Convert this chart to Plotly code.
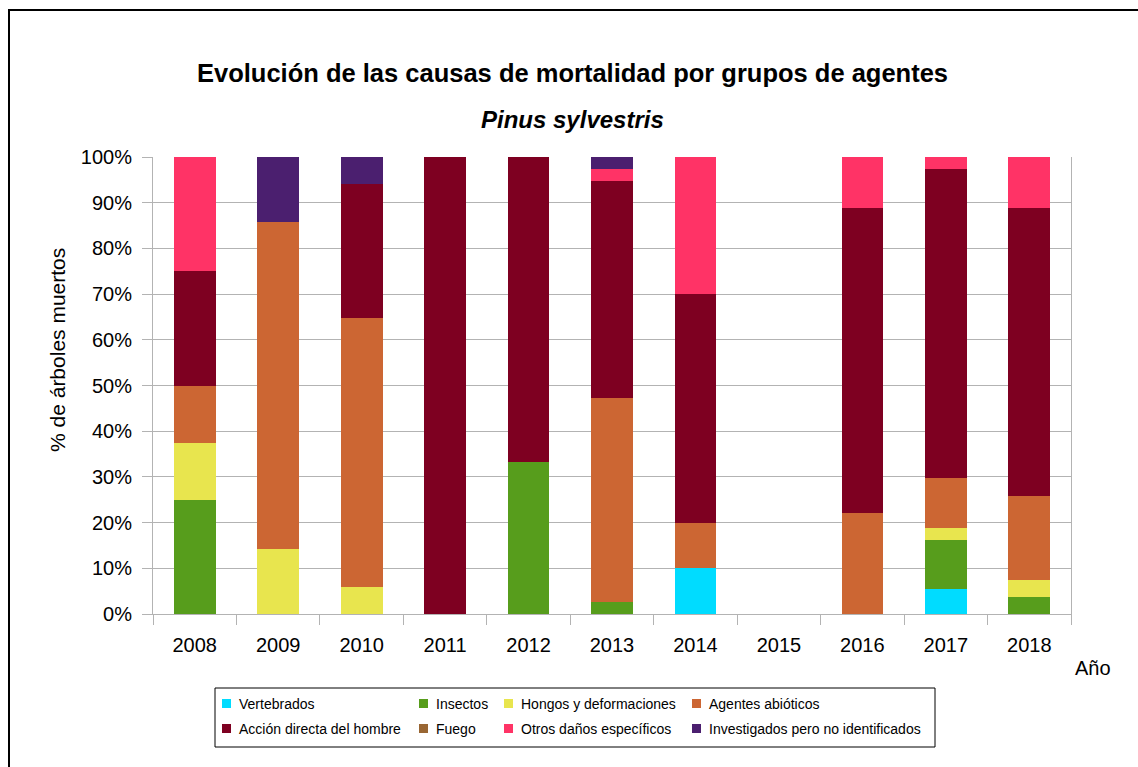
import plotly.graph_objects as go

# Años y porcentaje de árboles muertos por grupo de agentes
years = ["2008", "2009", "2010", "2011", "2012", "2013", "2014", "2015", "2016", "2017", "2018"]

vertebrados = [0, 0, 0, 0, 0, 0, 10.0, 0, 0, 5.4, 0]
insectos = [25.0, 0, 0, 0, 33.3, 2.6, 0, 0, 0, 10.8, 3.7]
hongos = [12.5, 14.3, 5.9, 0, 0, 0, 0, 0, 0, 2.7, 3.7]
abioticos = [12.5, 71.4, 58.8, 0, 0, 44.7, 10.0, 0, 22.2, 10.8, 18.5]
accion_hombre = [25.0, 0, 29.4, 100.0, 66.7, 47.4, 50.0, 0, 66.7, 67.6, 63.0]
fuego = [0, 0, 0, 0, 0, 0, 0, 0, 0, 0, 0]
otros_danos = [25.0, 0, 0, 0, 0, 2.6, 30.0, 0, 11.1, 2.7, 11.1]
investigados = [0, 14.3, 5.9, 0, 0, 2.6, 0, 0, 0, 0, 0]

series_names = [
    "Vertebrados", "Insectos", "Hongos y deformaciones", "Agentes abióticos",
    "Acción directa del hombre", "Fuego", "Otros daños específicos",
    "Investigados pero no identificados",
]
series_values = [vertebrados, insectos, hongos, abioticos,
                 accion_hombre, fuego, otros_danos, investigados]
series_colors = ["#00dcff", "#579d1c", "#e8e54e", "#cc6633",
                 "#7e0021", "#996633", "#ff3366", "#4b1f6f"]

y_ticks = list(range(0, 101, 10))

W, H = 1138, 767
L, R, T, B = 153, 1071, 157, 614  # plot area in pixels


def px(x):
    return (x - L) / (R - L)


def py(y):
    return (B - y) / (B - T)


FONT = "Liberation Sans, Arial, sans-serif"

fig = go.Figure()
for name, vals, col in zip(series_names, series_values, series_colors):
    fig.add_trace(go.Bar(
        x=years, y=vals, name=name, marker_color=col,
        marker_line_width=0, showlegend=False,
    ))

fig.update_layout(
    width=W, height=H,
    barmode="stack", bargap=0.5,
    paper_bgcolor="white", plot_bgcolor="white",
    margin=dict(l=L, r=W - R, t=T, b=H - B, pad=0),
    font=dict(family=FONT, color="#000000"),
)

fig.update_xaxes(
    type="category", categoryorder="array", categoryarray=years,
    tickson="boundaries", ticks="outside", ticklen=10, tickcolor="#b3b3b3",
    showline=True, linecolor="#b3b3b3", linewidth=1,
    showgrid=False, tickfont=dict(size=20), ticklabelstandoff=13,
)
fig.update_yaxes(
    range=[0, 100], tickmode="array", tickvals=y_ticks,
    ticktext=[f"{v}%" for v in y_ticks],
    ticks="outside", ticklen=10, tickcolor="#b3b3b3",
    showline=True, mirror=True, linecolor="#b3b3b3", linewidth=1,
    showgrid=True, gridcolor="#b3b3b3", gridwidth=1,
    zeroline=False, tickfont=dict(size=20), ticklabelstandoff=6,
)

annotations = [
    dict(text="<b>Evolución de las causas de mortalidad por grupos de agentes</b>",
         x=px(572), y=py(73), font=dict(size=25.5)),
    dict(text="<b><i>Pinus sylvestris</i></b>", x=px(572), y=py(120), font=dict(size=24)),
    dict(text="% de árboles muertos", x=px(57), y=py(350), textangle=-90,
         font=dict(size=21)),
    dict(text="Año", x=px(1093), y=py(668), font=dict(size=20)),
]

shapes = [
    # frame of the image
    dict(type="line", x0=px(9), x1=px(9), y0=py(10), y1=py(770),
         line=dict(color="black", width=2)),
    dict(type="line", x0=px(8), x1=px(1140), y0=py(10), y1=py(10),
         line=dict(color="black", width=2)),
    # legend box
    dict(type="rect", x0=px(215), x1=px(935), y0=py(688), y1=py(747),
         line=dict(color="black", width=1), fillcolor="white"),
]

# legend entries laid out in two rows of four columns
col_sq = [222, 419, 504, 692]
row_y = [704, 729]
for i, (name, col) in enumerate(zip(series_names, series_colors)):
    r, c = divmod(i, 4)
    x0 = col_sq[c]
    yc = row_y[r]
    shapes.append(dict(type="rect", x0=px(x0), x1=px(x0 + 9), y0=py(yc - 5), y1=py(yc + 4),
                       line=dict(width=0), fillcolor=col))
    annotations.append(dict(text=name, x=px(x0 + 15), y=py(yc), xanchor="left",
                            font=dict(size=14)))

for a in annotations:
    a.update(xref="paper", yref="paper", showarrow=False)
    a.setdefault("xanchor", "center")
    a.setdefault("yanchor", "middle")
for s in shapes:
    s.update(xref="paper", yref="paper")

fig.update_layout(annotations=annotations, shapes=shapes)

fig.write_html("out.html")
